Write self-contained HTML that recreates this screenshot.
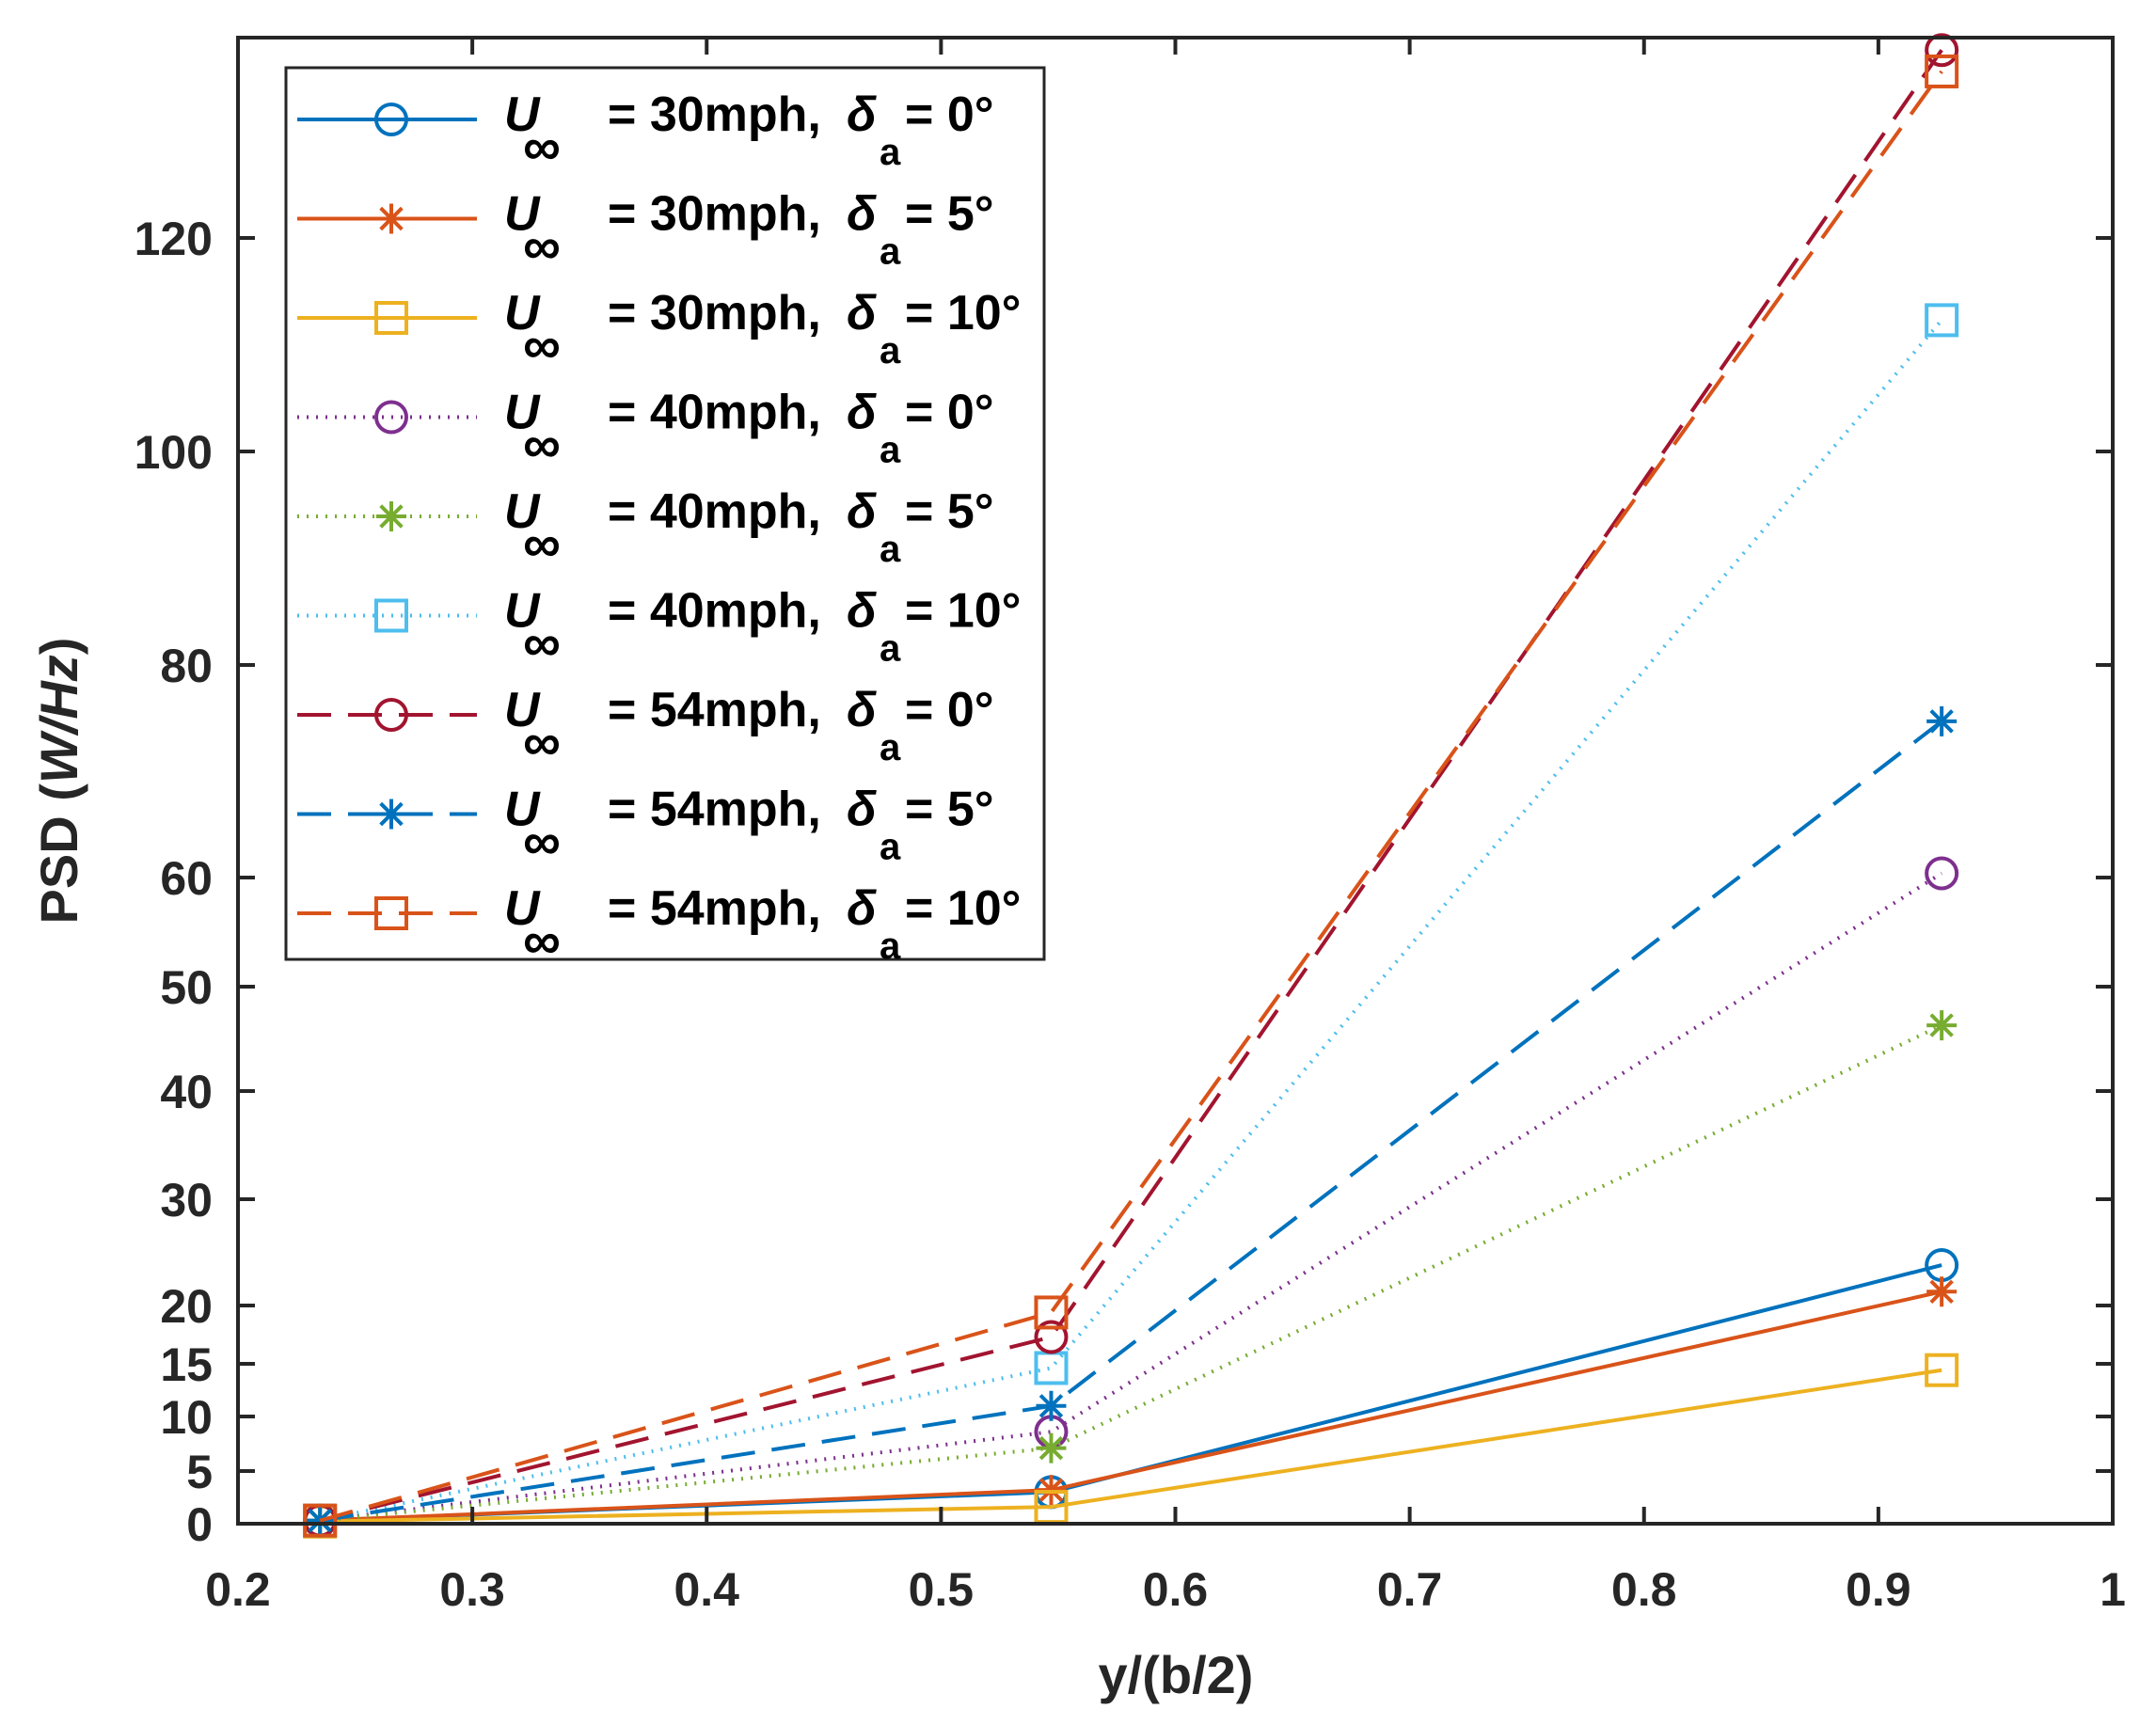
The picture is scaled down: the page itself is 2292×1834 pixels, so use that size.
<!DOCTYPE html>
<html><head><meta charset="utf-8"><style>
html,body{margin:0;padding:0;background:#fff;}
svg{display:block;font-family:"Liberation Sans",Arial,sans-serif;}
</style></head><body>
<svg id="chart" width="2292" height="1834" viewBox="0 0 2292 1834" xmlns="http://www.w3.org/2000/svg">
<rect x="0" y="0" width="2292" height="1834" fill="#fff"/>
<g id="plot"></g>
<g id="axes"></g>
<g id="legend"></g>
</svg>
<script>
const xValues = [0.235, 0.547, 0.927];
const s30_0 = [0.3, 3.0, 23.8];
const s30_5 = [0.3, 3.2, 21.3];
const s30_10 = [0.2, 1.6, 14.4];
const s40_0 = [0.3, 8.6, 60.4];
const s40_5 = [0.3, 7.1, 46.3];
const s40_10 = [0.3, 14.6, 112.3];
const s54_0 = [0.3, 17.3, 137.6];
const s54_5 = [0.3, 11.0, 74.7];
const s54_10 = [0.3, 19.4, 135.6];
const xTicks = [0.2, 0.3, 0.4, 0.5, 0.6, 0.7, 0.8, 0.9, 1];
const xTickLabels = ["0.2","0.3","0.4","0.5","0.6","0.7","0.8","0.9","1"];
const yTicks = [0, 5, 10, 15, 20, 30, 40, 50, 60, 80, 100, 120];
const yTickLabels = ["0","5","10","15","20","30","40","50","60","80","100","120"];
const seriesSpeeds = ["30","30","30","40","40","40","54","54","54"];
const seriesAngles = ["0","5","10","0","5","10","0","5","10"];

const NS = "http://www.w3.org/2000/svg";
const L = 253, R = 2246, T = 40, B = 1620;
const yKnotsV = [0, 5, 10, 15, 20, 30, 40, 50, 60, 80, 100, 120, 140];
const yKnotsP = [1620, 1564, 1506, 1450, 1388, 1275, 1160, 1049, 933, 707, 480, 253, 26];
function xs(v){ return L + (v - 0.2) / 0.8 * (R - L); }
function ys(v){
  for (let i = 0; i < yKnotsV.length - 1; i++) {
    if (v <= yKnotsV[i+1] || i === yKnotsV.length - 2) {
      const t = (v - yKnotsV[i]) / (yKnotsV[i+1] - yKnotsV[i]);
      return yKnotsP[i] + t * (yKnotsP[i+1] - yKnotsP[i]);
    }
  }
}
function mk(tag, attrs, parent){
  const e = document.createElementNS(NS, tag);
  for (const k in attrs) e.setAttribute(k, attrs[k]);
  parent.appendChild(e);
  return e;
}
const colors = ["#0072BD","#D95319","#EDB120","#7E2F8E","#77AC30","#4DBEEE","#A2142F","#0072BD","#D95319"];
const markers = ["o","*","s","o","*","s","o","*","s"];
const dashes = ["none","none","none","2 8","2 8","2 8","36 18","36 18","36 18"];
const series = [s30_0,s30_5,s30_10,s40_0,s40_5,s40_10,s54_0,s54_5,s54_10];

function marker(g, type, cx, cy, color){
  const r = 16;
  if (type === "o") mk("circle",{cx:cx,cy:cy,r:r,fill:"none",stroke:color,"stroke-width":4},g);
  else if (type === "s") mk("rect",{x:cx-r,y:cy-r,width:2*r,height:2*r,fill:"none",stroke:color,"stroke-width":4},g);
  else {
    let d = "";
    for (let a = 0; a < 4; a++) {
      const ang = a * Math.PI / 4;
      d += "M"+(cx - r*Math.cos(ang))+" "+(cy - r*Math.sin(ang))+"L"+(cx + r*Math.cos(ang))+" "+(cy + r*Math.sin(ang));
    }
    mk("path",{d:d,stroke:color,"stroke-width":4,fill:"none"},g);
  }
}

const plot = document.getElementById("plot");
series.forEach((vals, si) => {
  const g = mk("g",{},plot);
  
  
  const pts = vals.map((v,i) => xs(xValues[i]) + "," + ys(v)).join(" ");
  const line = mk("polyline",{points:pts,fill:"none",stroke:colors[si],"stroke-width":4,"stroke-dasharray":dashes[si]},g);
  
  
  vals.forEach((v,i) => marker(g, markers[si], xs(xValues[i]), ys(v), colors[si]));
});

const axes = document.getElementById("axes");
const box = mk("rect",{x:L,y:T,width:R-L,height:B-T,fill:"none",stroke:"#262626","stroke-width":4},axes);


xTicks.forEach((v,i) => {
  const x = xs(v);
  mk("line",{x1:x,y1:B,x2:x,y2:B-18,stroke:"#262626","stroke-width":4},axes);
  mk("line",{x1:x,y1:T,x2:x,y2:T+18,stroke:"#262626","stroke-width":4},axes);
  const t = mk("text",{x:x,y:1707,"text-anchor":"middle","font-size":50,"font-weight":"bold",fill:"#262626"},axes);
  t.textContent = xTickLabels[i];
  
  
});
yTicks.forEach((v,i) => {
  const y = ys(v);
  mk("line",{x1:L,y1:y,x2:L+18,y2:y,stroke:"#262626","stroke-width":4},axes);
  mk("line",{x1:R,y1:y,x2:R-18,y2:y,stroke:"#262626","stroke-width":4},axes);
  const t = mk("text",{x:226,y:y+18,"text-anchor":"end","font-size":50,"font-weight":"bold",fill:"#262626"},axes);
  t.textContent = yTickLabels[i];
  
  
});
const xl = mk("text",{x:1250,y:1800,"text-anchor":"middle","font-size":56,"font-weight":"bold",fill:"#262626"},axes);
xl.textContent = "y/(b/2)";


const yl = mk("text",{x:0,y:0,"text-anchor":"middle","font-size":56,"font-weight":"bold",fill:"#262626",transform:"translate(82,830) rotate(-90)"},axes);
yl.innerHTML = 'PSD (<tspan font-style="italic">W/Hz</tspan>)';



const leg = document.getElementById("legend");
const lbox = mk("rect",{x:304,y:72,width:806,height:948,fill:"#fff",stroke:"#262626","stroke-width":3},leg);


for (let i = 0; i < 9; i++) {
  const y = 127 + i * 105.5;
  const g = mk("g",{},leg);
  
  
  mk("line",{x1:316,y1:y,x2:507,y2:y,stroke:colors[i],"stroke-width":4,"stroke-dasharray":dashes[i]},g);
  marker(g, markers[i], 416, y, colors[i]);
  const tb = y + 12;
  const a = mk("text",{x:536,y:tb,"font-size":52,"font-weight":"bold","font-style":"italic",fill:"#000"},g); a.textContent = "U";
  const b = mk("text",{x:556,y:tb+36,"font-size":56,"font-weight":"bold",fill:"#000"},g); b.textContent = "∞";
  const c = mk("text",{x:646,y:tb,"font-size":52,"font-weight":"bold",fill:"#000"},g); c.textContent = "= " + seriesSpeeds[i] + "mph,";
  const d = mk("text",{x:900,y:tb,"font-size":52,"font-weight":"bold","font-style":"italic",fill:"#000"},g); d.textContent = "δ";
  const e = mk("text",{x:935,y:tb+36,"font-size":40,"font-weight":"bold",fill:"#000"},g); e.textContent = "a";
  const f = mk("text",{x:962,y:tb,"font-size":52,"font-weight":"bold",fill:"#000"},g); f.textContent = "= " + seriesAngles[i] + "°";
}
</script>
</body></html>
